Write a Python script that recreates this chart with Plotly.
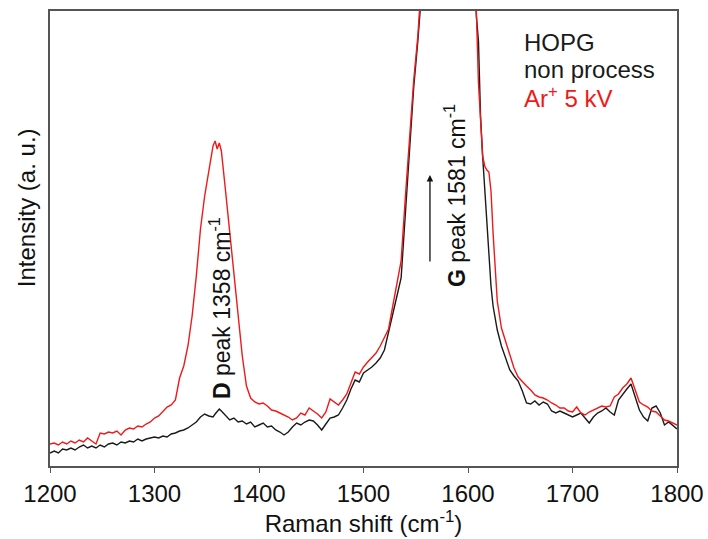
import plotly.graph_objects as go

raman_shift = [
    1200, 1204, 1208, 1212, 1216, 1220, 1224, 1228, 1232, 1236, 1240, 1244, 1248, 1252, 1256, 1260,
    1264, 1268, 1272, 1276, 1280, 1284, 1288, 1292, 1296, 1300, 1304, 1308, 1312, 1316, 1320, 1324,
    1328, 1332, 1336, 1340, 1344, 1348, 1352, 1356, 1358, 1360, 1362, 1364, 1368, 1372, 1376, 1380,
    1384, 1388, 1392, 1396, 1400, 1404, 1408, 1412, 1416, 1420, 1424, 1428, 1432, 1436, 1440, 1444,
    1448, 1452, 1456, 1460, 1464, 1468, 1472, 1476, 1480, 1484, 1488, 1492, 1496, 1500, 1504, 1508,
    1512, 1516, 1520, 1524, 1528, 1532, 1536, 1540, 1544, 1548, 1552, 1556, 1560, 1564, 1568, 1572,
    1576, 1580, 1584, 1588, 1592, 1596, 1600, 1604, 1606, 1608, 1610, 1612, 1614, 1616, 1618, 1620,
    1622, 1624, 1626, 1628, 1632, 1636, 1640, 1644, 1648, 1652, 1656, 1660, 1664, 1668, 1672, 1676,
    1680, 1684, 1688, 1692, 1696, 1700, 1704, 1708, 1712, 1716, 1720, 1724, 1728, 1732, 1736, 1740,
    1744, 1748, 1752, 1756, 1760, 1764, 1768, 1772, 1776, 1780, 1784, 1788, 1792, 1796, 1800,
]

intensity_non_process = [
    13, 15, 13, 17, 16, 18, 16, 19, 21, 18, 20, 18, 21, 19, 22, 23,
    21, 24, 23, 25, 24, 27, 25, 27, 28, 29, 28, 30, 29, 32, 33, 35,
    36, 38, 41, 44, 49, 52, 50, 49, 52, 54, 57, 55, 50, 46, 48, 44,
    45, 42, 44, 39, 41, 43, 39, 40, 36, 34, 31, 34, 39, 43, 41, 44,
    46, 45, 41, 36, 42, 48, 49, 51, 58, 66, 77, 86, 84, 93, 96, 99,
    103, 108, 116, 133, 152, 170, 188, 250, 318, 378, 425, 480, 620, 800, 1000, 1200,
    1350, 1450, 1420, 1300, 1100, 900, 700, 540, 490, 450, 425, 350, 310, 275, 245, 205,
    180, 160, 148, 136, 120, 108, 96, 90, 85, 75, 63, 62, 65, 61, 64, 62,
    55, 53, 55, 53, 51, 49, 51, 53, 48, 43, 49, 53, 55, 58, 54, 51,
    66, 72, 77, 82, 68, 56, 49, 45, 58, 60, 53, 41, 44, 40, 37,
]

intensity_ar_5kv = [
    22, 23, 21, 24, 22, 25, 23, 26, 24, 28, 25, 22, 33, 32, 34, 33,
    35, 31, 36, 38, 37, 40, 39, 42, 44, 48, 50, 54, 59, 61, 66, 88,
    100, 120, 150, 190, 237, 270, 295, 320, 325, 317, 323, 315, 275, 235, 188, 152,
    110, 80, 68, 64, 62, 63, 60, 56, 55, 53, 51, 49, 46, 48, 53, 51,
    58, 55, 52, 48, 54, 67, 64, 61, 66, 72, 83, 94, 92, 99, 104, 108,
    113, 120, 128, 137, 160, 182, 205, 268, 330, 385, 430, 495, 640, 820, 1020, 1220,
    1370, 1470, 1440, 1320, 1120, 920, 720, 560, 505, 455, 383, 340, 310, 300, 296, 294,
    275, 233, 199, 165, 138, 124, 112, 98, 89, 84, 80, 76, 71, 69, 68, 66,
    63, 61, 58, 58, 55, 54, 59, 53, 51, 54, 56, 58, 60, 59, 60, 69,
    72, 78, 82, 88, 76, 64, 61, 59, 55, 54, 50, 46, 45, 43, 41,
]

assert len(raman_shift) == len(intensity_non_process) == len(intensity_ar_5kv)

legend_lines = ["HOPG", "non process", "Ar<sup>+</sup> 5 kV"]
legend_colors = ["#1a1a1a", "#1a1a1a", "#f01818"]

FONT = "Arial, Liberation Sans, sans-serif"

fig = go.Figure()
fig.add_trace(go.Scatter(x=raman_shift, y=intensity_non_process, mode="lines",
                         line=dict(color="#1a1a1a", width=1.4), name="non process"))
fig.add_trace(go.Scatter(x=raman_shift, y=intensity_ar_5kv, mode="lines",
                         line=dict(color="#f01818", width=1.4), name="Ar+ 5 kV"))

# legend text block
for i, (txt, col) in enumerate(zip(legend_lines, legend_colors)):
    fig.add_annotation(x=0.752, y=0.930 - i * 0.0595, xref="paper", yref="paper",
                       text=txt, showarrow=False, xanchor="left", yanchor="middle",
                       font=dict(family=FONT, size=24, color=col))

# rotated peak labels
fig.add_annotation(x=1362.7, y=158, xref="x", yref="y", textangle=-90,
                   text="<b>D</b> peak 1358 cm<sup>-1</sup>", showarrow=False,
                   xanchor="center", yanchor="middle",
                   font=dict(family=FONT, size=23, color="#111"))
fig.add_annotation(x=1587.6, y=270, xref="x", yref="y", textangle=-90,
                   text="<b>G</b> peak 1581 cm<sup>-1</sup>", showarrow=False,
                   xanchor="center", yanchor="middle",
                   font=dict(family=FONT, size=23, color="#111"))

# arrow
fig.add_annotation(x=1563.6, y=291, ax=1563.6, ay=203, xref="x", yref="y",
                   axref="x", ayref="y", text="", showarrow=True,
                   arrowhead=2, arrowsize=1, arrowwidth=1.3, arrowcolor="#111")

# y axis title
fig.add_annotation(x=-0.038, y=0.567, xref="paper", yref="paper", textangle=-90,
                   text="Intensity (a. u.)", showarrow=False,
                   xanchor="center", yanchor="middle",
                   font=dict(family=FONT, size=24, color="#111"))

fig.update_layout(
    width=708, height=539,
    margin=dict(l=50, r=31, t=11, b=73),
    paper_bgcolor="white", plot_bgcolor="white",
    showlegend=False,
    font=dict(family=FONT, size=24, color="#111"),
)
fig.update_xaxes(range=[1200, 1800], tickvals=[1200, 1300, 1400, 1500, 1600, 1700, 1800],
                 ticks="outside", ticklen=5, tickwidth=1.3, tickcolor="#555",
                 showline=True, linecolor="#555", linewidth=1.5, mirror=True,
                 showgrid=False, zeroline=False, automargin=False,
                 tickfont=dict(family=FONT, size=24, color="#111"),
                 title=dict(text="Raman shift (cm<sup>-1</sup>)", standoff=2,
                            font=dict(family=FONT, size=24, color="#111")))
fig.update_yaxes(range=[0, 455], showticklabels=False, ticks="",
                 showline=True, linecolor="#555", linewidth=1.5, mirror=True,
                 showgrid=False, zeroline=False, automargin=False)

fig.write_html("out.html")
